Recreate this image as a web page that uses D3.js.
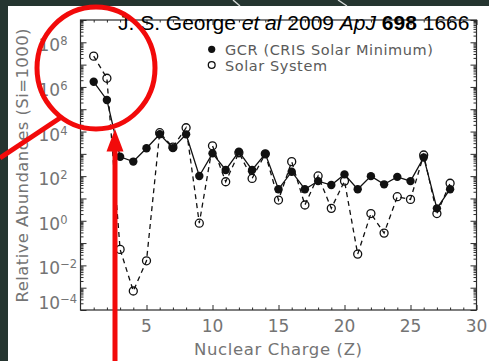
<!DOCTYPE html>
<html>
<head>
<meta charset="utf-8">
<script src="https://cdn.jsdelivr.net/npm/d3@7"></script>
<style>
  html, body { margin: 0; padding: 0; background: #253530; }
  svg { display: block; }
</style>
</head>
<body>
<svg id="chart" width="489" height="361"></svg>
<script>
// Nuclear charge Z of each element, H (1) to Ni (28)
const charge = [1, 2, 3, 4, 5, 6, 7, 8, 9, 10, 11, 12, 13, 14,
                15, 16, 17, 18, 19, 20, 21, 22, 23, 24, 25, 26, 27, 28];

// Galactic cosmic-ray abundances, CRIS at solar minimum (Si = 1000)
const gcr = [1.7e6, 2.6e5, 740, 450, 1780, 7600, 1800, 7500, 102, 1050,
             190, 1260, 190, 1000, 26, 158, 26, 60, 40, 120,
             26, 100, 43, 93, 60, 690, 3.6, 26];

// Solar-system abundances (Si = 1000)
const solar = [2.4e7, 2.45e6, 0.052, 7.1e-4, 0.016, 8900, 2000, 14800, 0.78, 2290,
               56, 1120, 79, 1000, 8.5, 447, 5.1, 102, 3.6, 60,
               0.032, 2.1, 0.28, 12, 9.1, 890, 2.1, 48];

const xTickLabels = [5, 10, 15, 20, 25, 30];
const yLabelExponents = [-4, -2, 0, 2, 4, 6, 8];
const seriesNames = ["GCR (CRIS Solar Minimum)", "Solar System"];

const W = 489, H = 361;
const box = { left: 80.5, right: 476.5, top: 20, bottom: 310 };
const axisColor = "#2a2a2a";
const textGray = "#747474";
const labelFont = "'DejaVu Sans', sans-serif";

const svg = d3.select("#chart");

// slide frame and white panel
svg.append("rect").attr("width", W).attr("height", H).attr("fill", "#253530");
svg.append("rect").attr("x", 8).attr("y", 6).attr("width", W - 8).attr("height", H - 6).attr("fill", "#ffffff");
svg.append("g").selectAll("line")
  .data([[233, 240], [338, 347]])
  .join("line")
  .attr("x1", d => d[0]).attr("y1", 0)
  .attr("x2", d => d[1]).attr("y2", 6)
  .attr("stroke", "#d8dcda").attr("stroke-width", 1.4);

const x = d3.scaleLinear().domain([0, 30]).range([box.left, box.right]);
const y = d3.scaleLog().domain([1e-4, 1e9]).range([box.bottom, box.top]);

// tick sets
const xMajor = d3.range(5, 31, 5);
const xMinor = d3.range(1, 30).filter(v => v % 5 !== 0);
const yMajor = d3.range(-4, 10).map(e => Math.pow(10, e));
const yMinor = [];
d3.range(-4, 9).forEach(e => { for (let k = 2; k <= 9; k++) yMinor.push(k * Math.pow(10, e)); });

function tickRow(gen, tx, ty, values, size) {
  const g = svg.append("g")
    .attr("transform", `translate(${tx},${ty})`)
    .call(gen.tickValues(values).tickSize(size).tickFormat(""));
  g.select(".domain").remove();
  g.selectAll(".tick line").attr("stroke", axisColor).attr("stroke-width", 1);
  g.selectAll(".tick text").remove();
}

tickRow(d3.axisTop(x), 0, box.bottom, xMajor, 5);
tickRow(d3.axisTop(x), 0, box.bottom, xMinor, 2.5);
tickRow(d3.axisBottom(x), 0, box.top, xMajor, 5);
tickRow(d3.axisBottom(x), 0, box.top, xMinor, 2.5);
tickRow(d3.axisRight(y), box.left, 0, yMajor, 6);
tickRow(d3.axisRight(y), box.left, 0, yMinor, 3);
tickRow(d3.axisLeft(y), box.right, 0, yMajor, 6);
tickRow(d3.axisLeft(y), box.right, 0, yMinor, 3);

// plot frame
svg.append("rect")
  .attr("x", box.left).attr("y", box.top)
  .attr("width", box.right - box.left).attr("height", box.bottom - box.top)
  .attr("fill", "none").attr("stroke", axisColor).attr("stroke-width", 1.2);

// x tick labels
svg.append("g").selectAll("text")
  .data(xTickLabels)
  .join("text")
  .attr("x", d => x(d)).attr("y", 331.5)
  .attr("text-anchor", "middle")
  .attr("font-family", labelFont).attr("font-size", 17)
  .attr("fill", textGray)
  .text(d => d);

// y tick labels as powers of ten
const yl = svg.append("g").selectAll("text")
  .data(yLabelExponents)
  .join("text")
  .attr("x", 38.5)
  .attr("y", d => Math.min(y(Math.pow(10, d)) + 9, box.bottom - 1.5))
  .attr("font-family", labelFont).attr("font-size", 17)
  .attr("fill", textGray);
yl.append("tspan").text("10");
yl.append("tspan").attr("dy", -6).attr("font-size", 11.5)
  .text(d => d < 0 ? "\u2212" + Math.abs(d) : String(d));

// axis titles
svg.append("text")
  .attr("x", 278).attr("y", 354.5)
  .attr("text-anchor", "middle")
  .attr("font-family", labelFont).attr("font-size", 16.5)
  .attr("textLength", 168).attr("lengthAdjust", "spacing")
  .attr("fill", textGray)
  .text("Nuclear Charge (Z)");

svg.append("text")
  .attr("transform", "translate(27.5,165.5) rotate(-90)")
  .attr("text-anchor", "middle")
  .attr("font-family", labelFont).attr("font-size", 16.5)
  .attr("textLength", 274).attr("lengthAdjust", "spacing")
  .attr("fill", textGray)
  .text("Relative Abundances (Si=1000)");

// series
const gcrPts = charge.map((z, i) => ({ z, v: gcr[i] }));
const solarPts = charge.map((z, i) => ({ z, v: solar[i] }));
const line = d3.line().x(d => x(d.z)).y(d => y(d.v));

svg.append("path").datum(solarPts)
  .attr("d", line).attr("fill", "none")
  .attr("stroke", "#111").attr("stroke-width", 1.3)
  .attr("stroke-dasharray", "5,4");

svg.append("path").datum(gcrPts)
  .attr("d", line).attr("fill", "none")
  .attr("stroke", "#111").attr("stroke-width", 1.3);

svg.append("g").selectAll("circle")
  .data(solarPts)
  .join("circle")
  .attr("cx", d => x(d.z)).attr("cy", d => y(d.v)).attr("r", 4)
  .attr("fill", "none").attr("stroke", "#111").attr("stroke-width", 1.3);

svg.append("g").selectAll("circle")
  .data(gcrPts)
  .join("circle")
  .attr("cx", d => x(d.z)).attr("cy", d => y(d.v)).attr("r", 4.2)
  .attr("fill", "#111");

// legend
const legend = svg.append("g");
legend.append("circle").attr("cx", 211.7).attr("cy", 49.3).attr("r", 3.6).attr("fill", "#111");
legend.append("circle").attr("cx", 211.7).attr("cy", 65).attr("r", 3.4)
  .attr("fill", "none").attr("stroke", "#111").attr("stroke-width", 1.3);
legend.selectAll("text")
  .data(seriesNames)
  .join("text")
  .attr("x", 225).attr("y", (d, i) => i === 0 ? 54.5 : 70.5)
  .attr("font-family", labelFont).attr("font-size", 14.5)
  .attr("textLength", (d, i) => i === 0 ? 208 : 102).attr("lengthAdjust", "spacing")
  .attr("fill", "#5a5a5a")
  .text(d => d);

// citation
const cite = svg.append("text")
  .attr("x", 118).attr("y", 30)
  .attr("font-family", "'Liberation Sans', Arial, sans-serif")
  .attr("font-size", 21).attr("fill", "#000")
  .style("white-space", "pre");
cite.append("tspan").text("J. S. George ");
cite.append("tspan").attr("font-style", "italic").text("et al");
cite.append("tspan").text(" 2009 ");
cite.append("tspan").attr("font-style", "italic").text("ApJ");
cite.append("tspan").text(" ");
cite.append("tspan").attr("font-weight", "bold").text("698");
cite.append("tspan").text(" 1666");

// red call-outs around H and He
const red = "#f20a0a";
svg.append("ellipse")
  .attr("cx", 96).attr("cy", 68).attr("rx", 59).attr("ry", 61)
  .attr("fill", "none").attr("stroke", red).attr("stroke-width", 5);
svg.append("line")
  .attr("x1", 0).attr("y1", 158).attr("x2", 60).attr("y2", 118)
  .attr("stroke", red).attr("stroke-width", 5);
svg.append("line")
  .attr("x1", 115).attr("y1", 361).attr("x2", 115).attr("y2", 148)
  .attr("stroke", red).attr("stroke-width", 5);
svg.append("polygon")
  .attr("points", "115,129 106.5,151.5 123.5,151.5")
  .attr("fill", red);
</script>
</body>
</html>
